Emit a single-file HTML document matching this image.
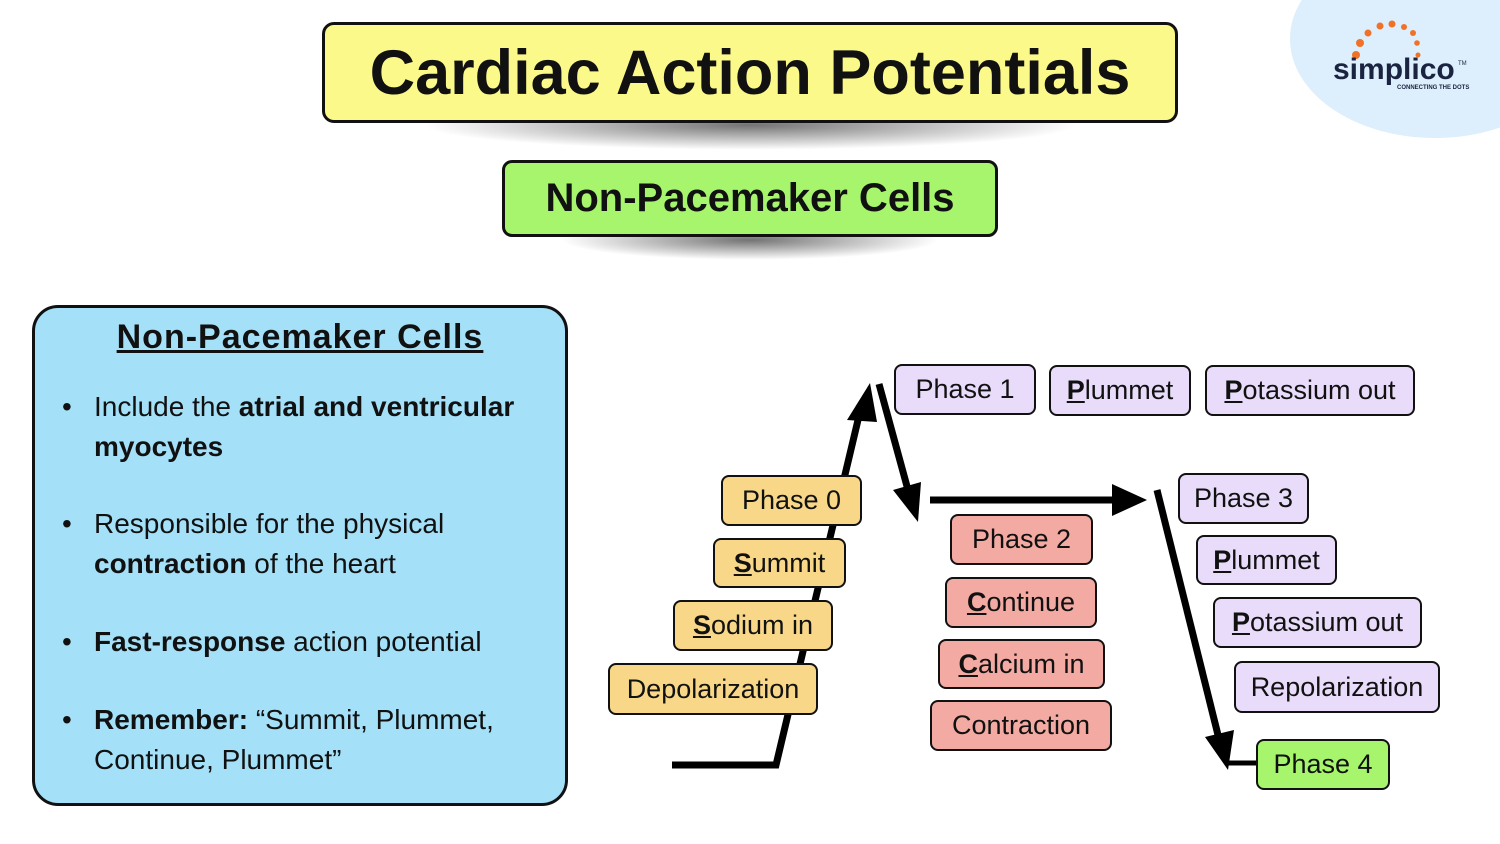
<!DOCTYPE html>
<html><head><meta charset="utf-8"><style>
*{margin:0;padding:0;box-sizing:border-box}
body{width:1500px;height:844px;background:#fff;position:relative;overflow:hidden;font-family:"Liberation Sans",Arial,sans-serif;color:#111}
.b{position:absolute;border:2.5px solid #111;border-radius:8px;display:flex;align-items:center;justify-content:center;font-size:27px;white-space:nowrap}
.o{background:#f8d888}.p{background:#e8dcfa}.r{background:#f2aaa3}.g{background:#a6f56c}
u{font-weight:bold}
.sh{position:absolute;border-radius:50%;background:radial-gradient(ellipse at center,rgba(0,0,0,.55),rgba(0,0,0,0) 70%)}
.blue{position:absolute;left:32px;top:305px;width:536px;height:501px;background:#a4e0f8;border:3px solid #111;border-radius:26px}
.li{position:absolute;left:94px;font-size:28px;line-height:40px;width:470px}
.dot{position:absolute;left:62px;font-size:28px;line-height:40px}
</style></head><body>
<div style="position:absolute;left:1290px;top:-60px;width:290px;height:198px;border-radius:50%;background:#ddeefc"></div>
<svg style="position:absolute;left:1330px;top:15px" width="160" height="80">
<g fill="#f07228"><circle cx="26" cy="40" r="4"/><circle cx="30" cy="28" r="4"/><circle cx="38" cy="18" r="3.5"/><circle cx="50" cy="11" r="3.5"/><circle cx="62" cy="9" r="3.5"/><circle cx="74" cy="12" r="3"/><circle cx="83" cy="18" r="3"/><circle cx="87" cy="28" r="2.8"/><circle cx="88" cy="40" r="2.5"/></g>
<text x="3" y="64" font-family="Liberation Sans" font-weight="bold" font-size="30" fill="#1a2440">simplico</text>
<text x="128" y="50" font-size="6" fill="#1a2440">TM</text>
<text x="67" y="74" font-family="Liberation Sans" font-weight="bold" font-size="6" fill="#1a2440">CONNECTING THE DOTS</text>
</svg>
<div class="sh" style="left:420px;top:100px;width:660px;height:50px"></div>
<div class="b" style="left:322px;top:22px;width:856px;height:101px;background:#fbf98a;border-width:3px;border-radius:12px;font-size:63px;font-weight:bold">Cardiac Action Potentials</div>
<div class="sh" style="left:560px;top:220px;width:380px;height:40px"></div>
<div class="b g" style="left:502px;top:160px;width:496px;height:77px;border-width:3px;border-radius:10px;font-size:40px;font-weight:bold">Non-Pacemaker Cells</div>
<div class="blue"></div>
<div style="position:absolute;left:32px;width:536px;top:318px;text-align:center;font-size:34px;letter-spacing:1px;font-weight:bold;text-decoration:underline">Non-Pacemaker Cells</div>
<div class="dot" style="top:387px">•</div><div class="li" style="top:387px">Include the <b>atrial and ventricular myocytes</b></div>
<div class="dot" style="top:504px">•</div><div class="li" style="top:504px">Responsible for the physical <b>contraction</b> of the heart</div>
<div class="dot" style="top:622px">•</div><div class="li" style="top:622px"><b>Fast-response</b> action potential</div>
<div class="dot" style="top:700px">•</div><div class="li" style="top:700px"><b>Remember:</b> “Summit, Plummet, Continue, Plummet”</div>
<svg style="position:absolute;left:0;top:0" width="1500" height="844">
<g stroke="#000" stroke-width="7" fill="none">
<polyline points="672,765 776,765 858,420"/>
<line x1="879" y1="384" x2="908" y2="490"/>
<line x1="930" y1="500" x2="1115" y2="500"/>
<line x1="1157" y1="490" x2="1218" y2="735"/>
<line x1="1225" y1="763" x2="1258" y2="763" stroke-width="5"/>
</g>
<g fill="#000">
<polygon points="870,383 847,420 877,422"/>
<polygon points="918,522 893,490 921,482"/>
<polygon points="1147,500 1112,484 1112,516"/>
<polygon points="1228,770 1205,737 1234,730"/>
</g>
</svg>
<div class="b p" style="left:894px;top:364px;width:142px;height:51px">Phase 1</div>
<div class="b p" style="left:1049px;top:365px;width:142px;height:51px"><span><u>P</u>lummet</span></div>
<div class="b p" style="left:1205px;top:365px;width:210px;height:51px"><span><u>P</u>otassium out</span></div>
<div class="b o" style="left:721px;top:475px;width:141px;height:51px">Phase 0</div>
<div class="b o" style="left:713px;top:538px;width:133px;height:50px"><span><u>S</u>ummit</span></div>
<div class="b o" style="left:673px;top:600px;width:160px;height:51px"><span><u>S</u>odium in</span></div>
<div class="b o" style="left:608px;top:663px;width:210px;height:52px">Depolarization</div>
<div class="b r" style="left:950px;top:514px;width:143px;height:51px">Phase 2</div>
<div class="b r" style="left:945px;top:577px;width:152px;height:51px"><span><u>C</u>ontinue</span></div>
<div class="b r" style="left:938px;top:639px;width:167px;height:50px"><span><u>C</u>alcium in</span></div>
<div class="b r" style="left:930px;top:700px;width:182px;height:51px">Contraction</div>
<div class="b p" style="left:1178px;top:473px;width:131px;height:51px">Phase 3</div>
<div class="b p" style="left:1196px;top:535px;width:141px;height:50px"><span><u>P</u>lummet</span></div>
<div class="b p" style="left:1213px;top:597px;width:209px;height:51px"><span><u>P</u>otassium out</span></div>
<div class="b p" style="left:1234px;top:661px;width:206px;height:52px">Repolarization</div>
<div class="b g" style="left:1256px;top:739px;width:134px;height:51px">Phase 4</div>
</body></html>
